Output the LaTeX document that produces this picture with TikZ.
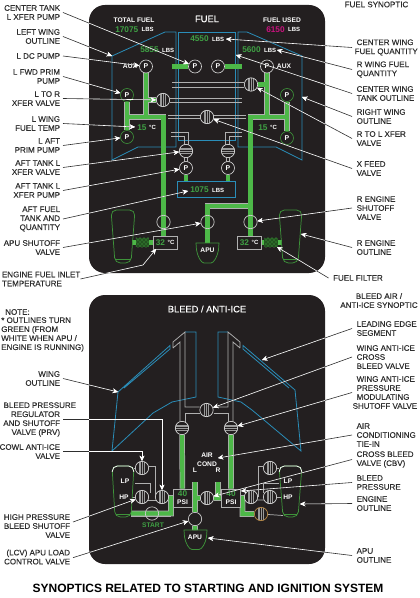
\documentclass[tikz,border=0pt]{standalone}
\usepackage{fontspec}
\setmainfont{Liberation Sans}
\newfontfamily\labelfam[FakeBold=0.3]{Liberation Sans}
\usetikzlibrary{arrows.meta, positioning, backgrounds, patterns, shapes.geometric}
\definecolor{panelblack}{HTML}{231F20}
\definecolor{fuelgreen}{HTML}{4DB848}
\definecolor{textgreen}{HTML}{3FA044}
\definecolor{tankblue}{HTML}{2A8DB8}
\definecolor{usedred}{HTML}{C8127E}
\definecolor{pipegray}{HTML}{B0B0B0}
\definecolor{valveband}{HTML}{9A9A9A}
\definecolor{valvetan}{HTML}{B98A45}
\definecolor{labelink}{HTML}{2E2E2E}
\colorlet{leadercolor}{labelink}
\tikzstyle{panelbg} = [fill=panelblack, rounded corners=12pt]
\tikzstyle{tankline} = [draw=tankblue, line width=.6pt]
\tikzstyle{engineline} = [draw=fuelgreen!80!black, line width=.55pt, rounded corners=4pt]
\tikzstyle{gline} = [draw=pipegray, line width=.55pt]
\tikzstyle{pipeedge} = [draw=pipegray, line width=4.2pt]
\tikzstyle{pipefill} = [draw=fuelgreen, line width=3.1pt]
\tikzstyle{pipestub} = [draw=fuelgreen, line width=3.6pt]
\tikzstyle{pump} = [circle, draw=white!85!black, fill=panelblack, minimum size=9.75pt, inner sep=0pt, text=white, line width=.5pt, font=\fontsize{5.2}{6}\selectfont\bfseries]
\tikzstyle{primpump} = [pump, draw=fuelgreen!80!black]
\tikzstyle{valveopen} = [circle, draw=white!80!black, minimum size=10pt, inner sep=0pt, line width=.5pt]
\tikzstyle{valvev} = [circle, draw=white!85!black, fill=panelblack, minimum size=10pt, inner sep=0pt, line width=.5pt, path picture={
    \fill[valveband] ([xshift=-2.2pt,yshift=-6pt]path picture bounding box.center) rectangle ([xshift=2.2pt,yshift=6pt]path picture bounding box.center);
    \draw[panelblack, line width=.45pt] ([xshift=-.8pt,yshift=-6pt]path picture bounding box.center) -- ([xshift=-.8pt,yshift=6pt]path picture bounding box.center);
    \draw[panelblack, line width=.45pt] ([xshift=.8pt,yshift=-6pt]path picture bounding box.center) -- ([xshift=.8pt,yshift=6pt]path picture bounding box.center);}]
\tikzstyle{valveh} = [circle, draw=white!85!black, fill=panelblack, minimum size=10pt, inner sep=0pt, line width=.5pt, path picture={
    \fill[valveband] ([xshift=-6pt,yshift=-2.2pt]path picture bounding box.center) rectangle ([xshift=6pt,yshift=2.2pt]path picture bounding box.center);
    \draw[panelblack, line width=.45pt] ([xshift=-6pt,yshift=-.8pt]path picture bounding box.center) -- ([xshift=6pt,yshift=-.8pt]path picture bounding box.center);
    \draw[panelblack, line width=.45pt] ([xshift=-6pt,yshift=.8pt]path picture bounding box.center) -- ([xshift=6pt,yshift=.8pt]path picture bounding box.center);}]
\tikzstyle{valvestart} = [valvev, draw=valvetan]
\tikzstyle{readout} = [rectangle, draw=pipegray, fill=panelblack, line width=.5pt, inner sep=0pt, minimum width=18pt, minimum height=9.5pt, text=white]
\tikzstyle{psibox} = [rectangle, draw=pipegray, fill=panelblack, line width=.5pt, inner sep=0pt, minimum width=14pt, minimum height=13.5pt, text=white, align=center, font=\fontsize{5}{6.2}\selectfont\bfseries]
\tikzstyle{filterbox} = [rectangle, inner sep=0pt, minimum width=10pt, minimum height=7pt, preaction={fill=fuelgreen!45!black}, pattern=crosshatch dots, pattern color=fuelgreen]
\tikzstyle{qty} = [inner sep=0pt, anchor=west, text=textgreen, font=\fontsize{6.2}{7}\selectfont\bfseries]
\tikzstyle{lbs} = [inner sep=0pt, text=white, font=\fontsize{4.5}{5}\selectfont\bfseries]
\tikzstyle{paneltext} = [inner sep=0pt, text=white, align=center, font=\fontsize{5}{6.4}\selectfont\bfseries]
\tikzstyle{paneltitle} = [inner sep=0pt, text=white, font=\labelfam\fontsize{7}{8}\selectfont]
\tikzstyle{leftlabel} = [inner sep=2pt, anchor=east, align=right, text=labelink, font=\labelfam\fontsize{6}{6.75}\selectfont]
\tikzstyle{rightlabel} = [inner sep=3.3pt, anchor=west, align=left, text=labelink, font=\labelfam\fontsize{6}{6.75}\selectfont]
\tikzstyle{freelabel} = [inner sep=0pt, text=labelink, font=\labelfam\fontsize{6}{6.75}\selectfont]
\tikzstyle{callout} = [-{Stealth[length=4pt,width=3.6pt,color=white]}, draw=leadercolor, line width=.45pt]
\newcommand{\fuelruns}{
    (pldc) -- (ldcjoin) (ldcbranch) -- (vltor)
    (pfwdl) -- (paftl) (pfwdl |- lmain) -- (lmain) -- (lmain |- templ)
    (prdc) -- (rdcjoin) (rdcbranch) -- (vrtol)
    (pfwdr) -- (paftr) (pfwdr |- rmain) -- (rmain) -- (rmain |- tempr)
    (rmain |- apujoin) -- (apujoin) -- (apufueltop)
    (stubl) -- (templ) (tempr) -- (stubr)
}
\newcommand{\bleedruns}{
    (vwail) -- (psil) (vwair) -- (psir)
    (xbleedtop) -- (vlcv) -- (apubleedtop)
    (psil) -- (cbv) -- (psir) (actop) -- (actop |- cbv)
    (psil) -- (startstub) (startdrop) -- (startknee) -- (startend)
    (psir) -- (startdropr) -- (startkneer) -- (vstartr)
}
\newcommand{\calloutlines}{
    \draw[callout] (lblctrx.east) -- (pctrl);
    \draw[callout] (lbllwing.east) -- (lwingtop);
    \draw[callout] (lblldc.east) -- (pldc);
    \draw[callout] (lblfwd.east) -- (pfwdl);
    \draw[callout] (lblltor.east) -- (vltor);
    \draw[callout] (lbltemp.east) -- (temptext);
    \draw[callout] (lblaft.east) -- (paftl);
    \draw[callout] (lblaftv.east) -- (xvalvel);
    \draw[callout] (lblaftp.east) -- (xpumpl);
    \draw[callout] (lblafttank.east) -- (afttext);
    \draw[callout] (lblapuv.east) -- (vapu);
    \draw[callout] (lblinlet.east) -- (inletknee) -- (inletend);
    \draw[callout] (lblcqty.west) -- (cqtyend);
    \draw[callout] (lblrqty.west) -- (rqtyend);
    \draw[callout] (lblctank.west) -- (ctankend);
    \draw[callout] (lblrwing.west) -- (rwingend);
    \draw[callout] (lblrtol.west) -- (vrtol);
    \draw[callout] (lblxfeed.west) -- (vxfeed);
    \draw[callout] (lblrshut.west) -- (vrshut);
    \draw[callout] (lblreng.west) -- (rengend);
    \draw[callout] (lblfilter.west) -- (filterend);
    \draw[callout] (lblwing.east) -- (bwingtip);
    \draw[callout] (lblprv.east) -| (vprv);
    \draw[callout] (lblcowl.east) -| (vcowll);
    \draw[callout] ([yshift=3pt]lblhp.east) -- (vhpl);
    \draw[callout] ([yshift=-.5pt]lbllcv.east) -- (vlcv);
    \draw[callout] (lbledge.west) -- (edgeend);
    \draw[callout] (lblwaix.west) -- (vxbleed);
    \draw[callout] (lblprsov.west) -- (vwair);
    \draw[callout] (lblac.west) -- (acend);
    \draw[callout] (lblcbv.west) -- (cbv);
    \draw[callout] (lblpress.west) -- (pressend);
    \draw[callout] (lblengb.west) -- (engbend);
    \draw[callout] (lblapub.west) -- (apubend);
}

\begin{document}
\begin{tikzpicture}[x=0.75pt, y=-0.75pt]
    \useasboundingbox (0,0) rectangle (419,598);

    % Fuel panel: pumps and valves
    \node[pump] (pldc) at (146,66.5) {P};
    \node[pump] (pctrl) at (195,66.5) {P};
    \node[pump] (pctrr) at (218,66.5) {P};
    \node[pump] (prdc) at (267,66.5) {P};
    \node[primpump] (pfwdl) at (127,95) {P};
    \node[primpump] (paftl) at (127,137) {P};
    \node[primpump] (pfwdr) at (287,95) {P};
    \node[primpump] (paftr) at (287,138) {P};
    \node[valvev] (vltor) at (163,100) {};
    \node[valvev] (vrtol) at (251,84.5) {};
    \node[valvev] (vxfeed) at (207,117) {};
    \node[valveh] (xvalvel) at (186,151) {};
    \node[valveh] (xvalver) at (228,151) {};
    \node[pump] (xpumpl) at (186,168) {P};
    \node[pump] (xpumpr) at (228,168) {P};
    \node[valveopen] (vlshut) at (163.5,222) {};
    \node[valveopen] (vapu) at (207.5,222) {};
    \node[valveopen] (vrshut) at (250.5,222) {};

    % Fuel panel: readouts
    \node[readout] (templ) at (165,242.5) {};
    \node[readout] (tempr) at (249,242.5) {};
    \node[filterbox] (filterl) at (142.5,242.5) {};
    \node[filterbox] (filterr) at (271,242.5) {};
    \node[rectangle, draw=tankblue, line width=.55pt, minimum width=44pt, minimum height=12.5pt, inner sep=0pt] (afttank) at (206.5,189.5) {};
    \node[paneltitle] (fueltitle) at (207,19) {FUEL};
    \node[paneltext] (totaltxt) at (134,20) {TOTAL FUEL};
    \node[paneltext] (usedtxt) at (282,20) {FUEL USED};
    \node[qty] (qtytotal) at (115,29.5) {17075};
    \node[lbs, right=2.2pt of qtytotal] (lbstotal) {LBS};
    \node[qty, text=usedred] (qtyused) at (266,29.5) {6150};
    \node[lbs, right=2.2pt of qtyused] (lbsused) {LBS};
    \node[qty] (qtyl) at (140,50) {5855};
    \node[lbs, right=2.2pt of qtyl] (lbsl) {LBS};
    \node[qty] (qtyc) at (190,39) {4550};
    \node[lbs, right=2.2pt of qtyc] (lbsc) {LBS};
    \node[qty] (qtyr) at (242,50) {5600};
    \node[lbs, right=2.2pt of qtyr] (lbsr) {LBS};
    \node[qty] (qtyaft) at (190,190) {1075};
    \node[lbs, right=2.2pt of qtyaft] (lbsaft) {LBS};
    \node[paneltext] (auxl) at (130,66.5) {AUX};
    \node[paneltext] (auxr) at (284,66.5) {AUX};
    \node[qty] (tnuml) at (137,127.5) {15};
    \node[lbs, right=1.6pt of tnuml] (tunitl) {°C};
    \node[qty] (tnumr) at (258,127.5) {15};
    \node[lbs, right=1.6pt of tnumr] (tunitr) {°C};
    \node[qty] (inletnuml) at (155.5,242.5) {32};
    \node[lbs, right=1.6pt of inletnuml] (inletunitl) {°C};
    \node[qty] (inletnumr) at (239.5,242.5) {32};
    \node[lbs, right=1.6pt of inletnumr] (inletunitr) {°C};
    \node[paneltext] (apufuel) at (207.5,250) {APU};

    % Fuel panel: pipe ends and callout ends
    \coordinate (ldcjoin) at (146,117);
    \coordinate (ldcbranch) at (146,100);
    \coordinate (lmain) at (163.5,117);
    \coordinate (rdcjoin) at (267,117);
    \coordinate (rdcbranch) at (267,84.5);
    \coordinate (rmain) at (250.5,117);
    \coordinate (apujoin) at (207.5,206);
    \coordinate (apufueltop) at (207.5,243);
    \coordinate (stubl) at (132,242.5);
    \coordinate (stubr) at (282,242.5);
    \coordinate (lwingtop) at (112,56);
    \coordinate (temptext) at (135,127);
    \coordinate (afttext) at (188,191);
    \coordinate (inletknee) at (143,265);
    \coordinate (inletend) at (156,249);
    \coordinate (cqtyend) at (226,39);
    \coordinate (rqtyend) at (277,50);
    \coordinate (ctankend) at (236,55);
    \coordinate (rwingend) at (302,97);
    \coordinate (rengend) at (301,234);
    \coordinate (filterend) at (277,247);

    % Bleed panel: valves
    \node[valvev] (vxbleed) at (206.5,410) {};
    \node[valveh] (vwail) at (182,428) {};
    \node[valveh] (vwair) at (231,428) {};
    \node[valvev] (cbv) at (207,498) {};
    \node[valveopen] (vlcv) at (195,519) {};
    \node[valvev] (vcowll) at (142,468) {};
    \node[valvev] (vhpl) at (142,497) {};
    \node[valvev] (vprv) at (162,497) {};
    \node[valveopen] (vstartl) at (152,513.5) {};
    \node[valvev] (vcowlr) at (270,468) {};
    \node[valvev] (vhpr) at (270,497) {};
    \node[valvev] (vprvr) at (251,497) {};
    \node[valvestart] (vstartr) at (261,514) {};
    \node[psibox] (psil) at (182.5,498) {{\color{textgreen}\fontsize{6.2}{7}\selectfont 40}\\PSI};
    \node[psibox] (psir) at (231,498) {{\color{textgreen}\fontsize{6.2}{7}\selectfont 40}\\PSI};

    % Bleed panel: texts
    \node[paneltitle] (bleedtitle) at (207,309) {BLEED / ANTI-ICE};
    \node[paneltext] (aircond) at (207,459.5) {AIR\\COND};
    \node[paneltext] (acleft) at (195,470) {L};
    \node[paneltext] (acright) at (218,470) {R};
    \node[paneltext] (lpl) at (125,481) {LP};
    \node[paneltext] (hpl) at (124,497) {HP};
    \node[paneltext] (lpr) at (288,481) {LP};
    \node[paneltext] (hpr) at (288,497) {HP};
    \node[paneltext, text=textgreen] (starttxt) at (153,525.5) {START};
    \node[paneltext] (apubleed) at (195,537) {APU};

    % Bleed panel: pipe ends and callout ends
    \coordinate (xbleedtop) at (195,482);
    \coordinate (apubleedtop) at (195,530);
    \coordinate (actop) at (218,482);
    \coordinate (startstub) at (168,498);
    \coordinate (startdrop) at (171,498);
    \coordinate (startknee) at (171,513.5);
    \coordinate (startend) at (131,513.5);
    \coordinate (startdropr) at (242.5,498);
    \coordinate (startkneer) at (242.5,514);
    \coordinate (bwingtip) at (118,392);
    \coordinate (edgeend) at (262,360);
    \coordinate (acend) at (218,458);
    \coordinate (pressend) at (241,491);
    \coordinate (engbend) at (300,504);
    \coordinate (apubend) at (208,538);

    \begin{scope}[on background layer]
        \path[panelbg] (89,5) rectangle (325,273);
        \path[panelbg] (89,295) rectangle (325,564);

        % Fuel tanks
        \draw[tankline] (112,56) -- (165,32) -- (176,32) -- (176,147) -- (138,147) -- (112,160) -- cycle;
        \draw[tankline] (302,56) -- (247,32) -- (238,32) -- (238,147) -- (276,147) -- (302,160) -- cycle;
        \draw[tankline] (178,32) rectangle (235,140);

        % Fuel cross lines
        \draw[gline] (168,115.5) -- (246,115.5) (168,118.8) -- (246,118.8);
        \draw[gline] (172,82.5) -- (vrtol.west |- 0,82.5) (172,87) -- (vrtol.west |- 0,87);
        \draw[gline] (vltor.east |- 0,98) -- (242,98) (vltor.east |- 0,102.5) -- (242,102.5);
        \draw[gline] (171,132) -- (188,132) -- (188,146) (171,136) -- (184.5,136) -- (184.5,146);
        \draw[gline] (242,132) -- (225,132) -- (225,146) (242,136) -- (229.5,136) -- (229.5,146);
        \draw[gline] (184.5,156) -- (184.5,162) (187.5,156) -- (187.5,162);
        \draw[gline] (226.5,156) -- (226.5,162) (229.5,156) -- (229.5,162);

        % Fuel pipes
        \draw[pipeedge] \fuelruns;
        \draw[pipefill] \fuelruns;
        \draw[pipestub] (172,66.5) -- (pctrl);
        \draw[pipestub] (pctrr) -- (242,66.5);
        \draw[pipestub] (xpumpl) -- (xpumpl |- afttank.north);
        \draw[pipestub] (xpumpr) -- (xpumpr |- afttank.north);

        % Fuel engines and APU
        \draw[engineline] (115,263) -- (111,210) -- (135,210) -- (131,263) -- cycle;
        \draw[engineline] (116,259.5) -- (130,259.5);
        \draw[engineline] (283,263) -- (279,210) -- (302,210) -- (298,263) -- cycle;
        \draw[engineline] (284,259.5) -- (297,259.5);
        \draw[draw=fuelgreen!80!black, line width=.55pt] (196,243) -- (219,243) -- (218.5,250) .. controls (217.5,256) and (214,263) .. (211,263) -- (204,263) .. controls (201,263) and (197.5,256) .. (196.5,250) -- cycle;

        % Bleed wings
        \draw[tankline] (185,332) -- (196,332) -- (196,397) -- (172,402) -- (153,413) -- (112,451) -- (118,392) -- (170,345.5) -- (170,349) -- (124,388);
        \draw[tankline] (228,332) -- (218,332) -- (218,397) -- (241,402) -- (252,410) -- (301,451) -- (295,390) -- (243,345.5) -- (243,349) -- (289,388);
        \draw[gline] (173,348) -- (173,342) -- (185,332) -- (185,407) -- (vxbleed.west |- 0,407) (173,348) -- (180,342) -- (180,423);
        \draw[gline] (vxbleed.west |- 0,413) -- (185,413) -- (185,423);
        \draw[gline] (240,348) -- (240,342) -- (228,332) -- (228,407) -- (vxbleed.east |- 0,407) (240,348) -- (233,342) -- (233,423);
        \draw[gline] (vxbleed.east |- 0,413) -- (228,413) -- (228,423);

        % Bleed engine lines
        \draw[gline] (vcowll.east |- 0,466) -- (155,466) -- (155,497) -- (vprv);
        \draw[gline] (135,483) -- (150,483) -- (150,493);
        \draw[gline] (vhpl) -- (132,497) (vcowll) -- (134,468);
        \draw[gline] (142,500) -- (162,500) (vprv) -- (168,497);
        \draw[gline] (131,516) -- (171,516);
        \draw[gline] (vcowlr.west |- 0,466) -- (258,466) -- (258,497) -- (vprvr);
        \draw[gline] (279,483) -- (263,483) -- (263,493);
        \draw[gline] (vhpr) -- (281,497) (vcowlr) -- (279,468);
        \draw[gline] (251,500) -- (270,500) (vprvr) -- (psir);
        \draw[gline] (vstartr) -- (283,515.5);

        % Bleed pipes
        \draw[pipeedge] \bleedruns;
        \draw[pipefill] \bleedruns;

        % Bleed engines and APU
        \draw[engineline] (115,517) -- (112,466) -- (134,466) -- (131,517) -- cycle;
        \draw[engineline] (116,514) -- (130,514);
        \draw[engineline] (283,517) -- (279,466) -- (302,466) -- (298,517) -- cycle;
        \draw[engineline] (284,514) -- (297,514);
        \draw[white, line width=.55pt, rounded corners=4pt] (112.3,472) -- (112,466) -- (134,466) -- (133.7,472);
        \draw[white, line width=.55pt, rounded corners=4pt] (279.3,472) -- (279,466) -- (302,466) -- (301.7,472);
        \draw[draw=fuelgreen!80!black, line width=.55pt] (184,530) -- (207,530) -- (206.5,537) .. controls (205.5,543) and (202,549.5) .. (199,549.5) -- (192,549.5) .. controls (189,549.5) and (185.5,543) .. (184.5,537) -- cycle;
    \end{scope}

    % Labels, fuel synoptic
    \node[leftlabel] (lblctrx) at (63,12.5) {CENTER TANK\\L XFER PUMP};
    \node[leftlabel] (lbllwing) at (63,36.5) {LEFT WING\\OUTLINE};
    \node[leftlabel] (lblldc) at (63,56) {L DC PUMP};
    \node[leftlabel] (lblfwd) at (63,76.5) {L FWD PRIM\\PUMP};
    \node[leftlabel] (lblltor) at (63,98.5) {L TO R\\XFER VALVE};
    \node[leftlabel] (lbltemp) at (63,123.5) {L WING\\FUEL TEMP};
    \node[leftlabel] (lblaft) at (63,145.5) {L AFT\\PRIM PUMP};
    \node[leftlabel] (lblaftv) at (63,167.5) {AFT TANK L\\XFER VALVE};
    \node[leftlabel] (lblaftp) at (63,190.5) {AFT TANK L\\XFER PUMP};
    \node[leftlabel] (lblafttank) at (63,219) {AFT FUEL\\TANK AND\\QUANTITY};
    \node[leftlabel] (lblapuv) at (63,247.5) {APU SHUTOFF\\VALVE};
    \node[leftlabel, align=left, inner sep=0pt] (lblinlet) at (80.5,279) {ENGINE FUEL INLET\\TEMPERATURE};
    \node[freelabel] (lblfuelsyn) at (376.5,4.5) {FUEL SYNOPTIC};
    \node[rightlabel] (lblcqty) at (352,47.5) {CENTER WING\\\hspace*{-1.5pt}FUEL QUANTITY};
    \node[rightlabel] (lblrqty) at (352,69.5) {R WING FUEL\\QUANTITY};
    \node[rightlabel] (lblctank) at (352,93.5) {CENTER WING\\TANK OUTLINE};
    \node[rightlabel] (lblrwing) at (352,116.5) {RIGHT WING\\OUTLINE};
    \node[rightlabel] (lblrtol) at (352,138.5) {R TO L XFER\\VALVE};
    \node[rightlabel] (lblxfeed) at (352,168.5) {X FEED\\VALVE};
    \node[rightlabel] (lblrshut) at (352,208) {R ENGINE\\SHUTOFF\\VALVE};
    \node[rightlabel] (lblreng) at (352,247.5) {R ENGINE\\OUTLINE};
    \node[rightlabel] (lblfilter) at (328.5,278) {FUEL FILTER};

    % Labels, bleed synoptic
    \node[freelabel, align=left, anchor=west] (lblnotehead) at (5,312) {NOTE:};
    \node[freelabel, align=left, anchor=west] (lblnote) at (1,334.5) {* OUTLINES TURN\\GREEN (FROM\\WHITE WHEN APU /\\ENGINE IS RUNNING)};
    \node[leftlabel] (lblwing) at (63,378.5) {WING\\OUTLINE};
    \node[leftlabel] (lblprv) at (63,419.5) {BLEED PRESSURE\kern-12pt\\REGULATOR\\AND SHUTOFF\\VALVE (PRV)};
    \node[leftlabel] (lblcowl) at (63,451.5) {COWL ANTI-ICE\\VALVE};
    \node[leftlabel] (lblhp) at (73,526) {HIGH PRESSURE\\BLEED SHUTOFF\\VALVE};
    \node[leftlabel] (lbllcv) at (73,557) {(LCV) APU LOAD\\CONTROL VALVE};
    \node[freelabel, align=center] (lblbleedsyn) at (379,300.5) {BLEED AIR /\\ANTI-ICE SYNOPTIC};
    \node[rightlabel] (lbledge) at (352,328.5) {LEADING EDGE\\SEGMENT};
    \node[rightlabel] (lblwaix) at (352,357) {WING ANTI-ICE\\CROSS\\BLEED VALVE};
    \node[rightlabel] (lblprsov) at (352,392.5) {WING ANTI-ICE\\PRESSURE\\MODULATING\\\hspace*{-3pt}SHUTOFF VALVE};
    \node[rightlabel] (lblac) at (352,435) {AIR\\CONDITIONING\\TIE-IN};
    \node[rightlabel] (lblcbv) at (352,459.5) {CROSS BLEED\\VALVE (CBV)};
    \node[rightlabel] (lblpress) at (352,482.5) {BLEED\\PRESSURE};
    \node[rightlabel] (lblengb) at (352,503.5) {ENGINE\\OUTLINE};
    \node[rightlabel] (lblapub) at (352,555.5) {APU\\OUTLINE};
    \node[inner sep=0pt, text=black, font=\fontsize{9}{10}\selectfont\bfseries] (bottomtitle) at (208,588) {SYNOPTICS RELATED TO STARTING AND IGNITION SYSTEM};

    % Callouts, dark outside the panels and white on them
    \calloutlines
    \begin{scope}
        \clip[rounded corners=12pt] (89,5) rectangle (325,273) (89,295) rectangle (325,564);
        \colorlet{leadercolor}{white}
        \calloutlines
    \end{scope}
\end{tikzpicture}
\end{document}
